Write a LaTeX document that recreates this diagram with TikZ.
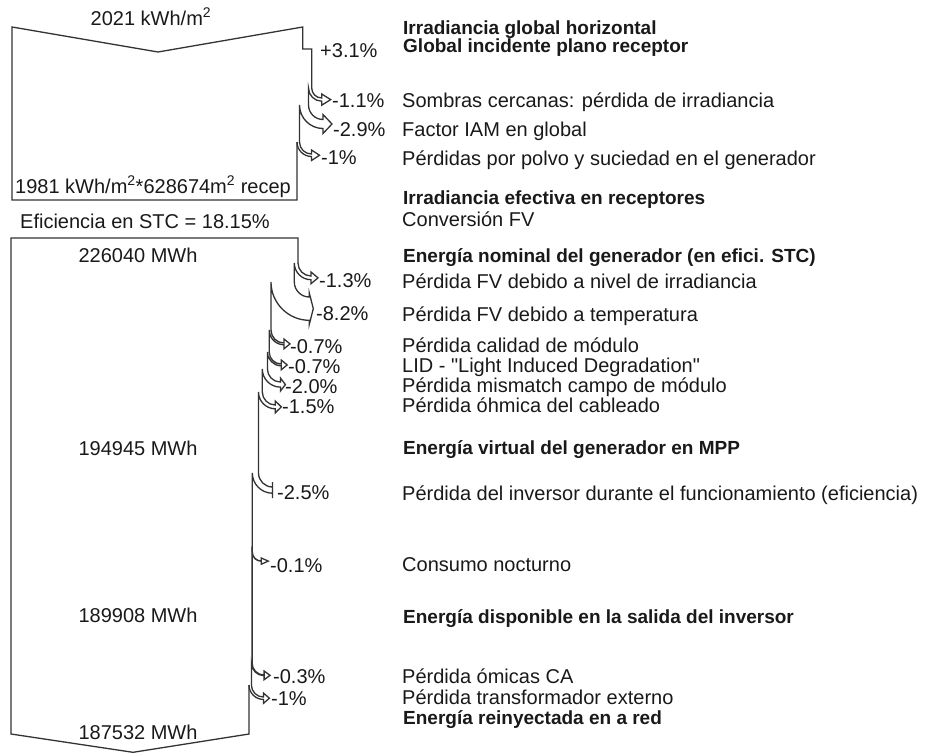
\documentclass[tikz,border=0pt]{standalone}
\usepackage{fontspec}
\setmainfont{Liberation Sans}[Ligatures=TeXOff]
\usetikzlibrary{positioning}

% one loss: {x old}{x new}{y start}{inner radius}{head length}{head wing}{y end of new edge}
\newcommand{\lossarrow}[7]{%
  \pgfmathsetmacro{\lsx}{#1+#4}%
  \pgfmathsetmacro{\lsro}{#4+#1-#2}%
  \pgfmathsetmacro{\lstop}{#3+#4}%
  \pgfmathsetmacro{\lsbot}{#3+\lsro}%
  \pgfmathsetmacro{\lsmid}{(\lstop+\lsbot)/2}%
  \draw[flow] (#1,#3) .. controls +(0,0.55*#4) and +(-0.55*#4,0) .. (\lsx,\lstop)
    -- (\lsx,\lstop-#6) -- (\lsx+#5,\lsmid) -- (\lsx,\lsbot+#6) -- (\lsx,\lsbot)
    .. controls +(-0.55*\lsro,0) and +(0,0.55*\lsro) .. (#2,#3) -- (#2,#7);
}

\begin{document}
\begin{tikzpicture}[x=1pt,y=-1pt,
    flow/.style={draw=black!80,line width=1.3pt},
    lbl/.style={font=\fontsize{20}{22}\selectfont,inner sep=0pt,text=black!90,
      text height=15pt,text depth=3pt,anchor=west},
    ttl/.style={lbl,font=\fontsize{19}{21}\selectfont\bfseries},
    val/.style={lbl,anchor=center}]
    \useasboundingbox (0,0) rectangle (931,753);

    % Place right column
    \node [ttl] (ghi) at (403,28) {Irradiancia global horizontal};
    \node [ttl] (gpoa) at (403,46) {Global incidente plano receptor};
    \node [lbl] (shd) at (402,101) {Sombras cercanas: pérdida de irradiancia};
    \node [lbl] (iam) at (402,130) {Factor IAM en global};
    \node [lbl] (soil) at (402,159) {Pérdidas por polvo y suciedad en el generador};
    \node [ttl] (geff) at (403,198) {Irradiancia efectiva en receptores};
    \node [lbl] (conv) at (402,220) {Conversión FV};
    \node [ttl] (enom) at (403,256) {Energía nominal del generador (en efici. STC)};
    \node [lbl] (lirr) at (402,282) {Pérdida FV debido a nivel de irradiancia};
    \node [lbl] (ltemp) at (402,315) {Pérdida FV debido a temperatura};
    \node [lbl] (lqual) at (402,346) {Pérdida calidad de módulo};
    \node [lbl] (llid) at (402,366) {LID - "Light Induced Degradation"};
    \node [lbl] (lmis) at (402,386) {Pérdida mismatch campo de módulo};
    \node [lbl] (lohm) at (402,406) {Pérdida óhmica del cableado};
    \node [ttl] (earr) at (403,448) {Energía virtual del generador en MPP};
    \node [lbl] (linv) at (402,494) {Pérdida del inversor durante el funcionamiento (eficiencia)};
    \node [lbl] (lnight) at (402,565) {Consumo nocturno};
    \node [ttl] (eout) at (403,617) {Energía disponible en la salida del inversor};
    \node [lbl] (lac) at (402,677) {Pérdida ómicas CA};
    \node [lbl] (ltrf) at (402,698) {Pérdida transformador externo};
    \node [ttl] (egrid) at (403,718) {Energía reinyectada en a red};

    % Place values
    \node [val] (vghi) at (151,19) {2021 kWh/m\textsuperscript{2}};
    \node [val] (veff) at (153,187) {1981 kWh/m\textsuperscript{2}*628674m\textsuperscript{2} recep};
    \node [val] (vstc) at (145,222) {Eficiencia en STC = 18.15\%};
    \node [val] (vnom) at (138,256) {226040 MWh};
    \node [val] (varr) at (138,449) {194945 MWh};
    \node [val] (vout) at (138,616) {189908 MWh};
    \node [val] (vgrid) at (138,733) {187532 MWh};

    % Place percentages
    \node [lbl] (pgpoa) at (320,51) {+3.1\%};
    \node [lbl] (pshd) at (332,101) {-1.1\%};
    \node [lbl] (piam) at (333,130) {-2.9\%};
    \node [lbl] (psoil) at (321,158) {-1\%};
    \node [lbl] (pirr) at (319,281) {-1.3\%};
    \node [lbl] (ptemp) at (316,314) {-8.2\%};
    \node [lbl] (pqual) at (290,347) {-0.7\%};
    \node [lbl] (plid) at (288,367) {-0.7\%};
    \node [lbl] (pmis) at (285,387) {-2.0\%};
    \node [lbl] (pohm) at (282,407) {-1.5\%};
    \node [lbl] (pinv) at (277,493) {-2.5\%};
    \node [lbl] (pnight) at (270,566) {-0.1\%};
    \node [lbl] (pac) at (273,677) {-0.3\%};
    \node [lbl] (ptrf) at (271,699) {-1\%};

    % irradiance flow
    \draw [flow] (297,142) -- (297,200) -- (12,200) -- (12,27) -- (158,52) -- (302.7,27)
      -- (302.7,49) -- (311.7,49) -- (311.7,88);
    \lossarrow{311.7}{308.5}{88}{10}{9}{4}{105}
    \lossarrow{308.5}{299.5}{105}{14.5}{9}{5}{142}
    \lossarrow{299.5}{297}{142}{12}{8}{4}{142}

    % energy flow
    \draw [flow] (249,685) -- (249,734) -- (133,752.3) -- (11,734) -- (11,238) -- (298,238) -- (298,263);
    \lossarrow{298}{294.3}{263}{13}{7}{4}{282}
    \lossarrow{294.3}{271}{282}{15}{4}{4}{330}
    \lossarrow{271}{269.2}{330}{13}{6}{4}{352}
    \lossarrow{269.2}{267.4}{352}{12}{6}{4}{369}
    \lossarrow{267.4}{262.3}{369}{13}{5}{4}{392}
    \lossarrow{262.3}{258.5}{392}{13}{6}{4}{473}
    \lossarrow{258.5}{252.3}{473}{14}{0}{5}{552}
    \lossarrow{252.3}{252.1}{552}{9}{7}{3}{663}
    \lossarrow{252.1}{251.4}{663}{12}{6}{4}{685}
    \lossarrow{251.4}{249}{685}{12}{6}{4}{685}
\end{tikzpicture}
\end{document}
